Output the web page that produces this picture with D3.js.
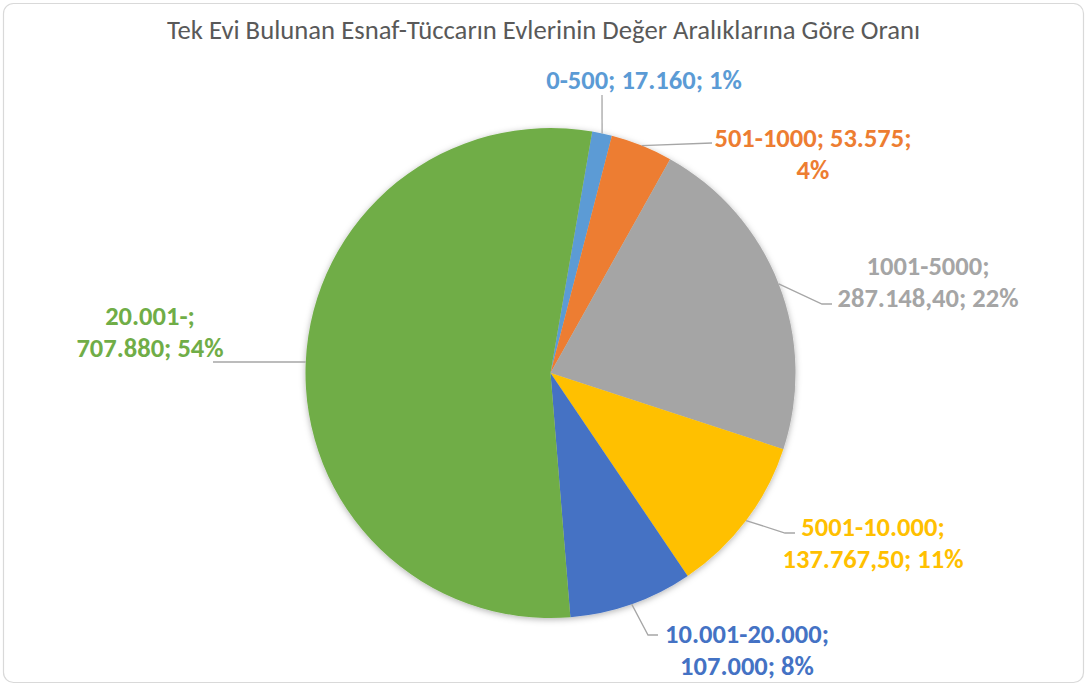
<!DOCTYPE html>
<html><head><meta charset="utf-8">
<script src="https://cdn.jsdelivr.net/npm/d3@7"></script>
<style>html,body{margin:0;padding:0;background:#fff;}svg{display:block;}</style>
</head><body>
<svg id="chart" width="1087" height="686"></svg>
<script>
const title = "Tek Evi Bulunan Esnaf-Tüccarın Evlerinin Değer Aralıklarına Göre Oranı";
const categories = ["0-500","501-1000","1001-5000","5001-10.000","10.001-20.000","20.001-"];
const values = [17160, 53575, 287148.40, 137767.50, 107000, 707880];
const valueLabels = ["17.160","53.575","287.148,40","137.767,50","107.000","707.880"];
const colors = ["#5B9BD5","#ED7D31","#A5A5A5","#FFC000","#4472C4","#70AD47"];
// label layout: text lines, centre x, first-line centre y, leader points after arc point
const labelLines = [
  ["{c}; {v}; {p}"],
  ["{c}; {v};","{p}"],
  ["{c};","{v}; {p}"],
  ["{c};","{v}; {p}"],
  ["{c};","{v}; {p}"],
  ["{c};","{v}; {p}"]
];
const labelX = [644, 813, 928, 873, 747, 150];
const labelY = [80, 138, 266, 527, 634, 316];
const leaderPts = [
  [[602,95]],
  [[712,143]],
  [[822,304],[832,304]],
  [[785,533],[795,533]],
  [[648,635],[658,635]],
  [[213,362]]
];

const svg = d3.select("#chart");
const W = 1087, H = 686;
const cx = 550.5, cy = 373, R = 245;
const startDeg = 9.8;
const font = "Carlito, Calibri, Lato, sans-serif";

svg.append("rect").attr("x",3.5).attr("y",3.5).attr("width",W-7).attr("height",H-7)
  .attr("rx",10).attr("fill","#fff").attr("stroke","#D9D9D9").attr("stroke-width",1.2);

const defs = svg.append("defs");
const f = defs.append("filter").attr("id","sh").attr("x","-20%").attr("y","-20%").attr("width","140%").attr("height","140%");
f.append("feDropShadow").attr("dx",0).attr("dy",1.5).attr("stdDeviation",3).attr("flood-color","#000").attr("flood-opacity",0.3);

const t = svg.append("text").attr("x",W/2).attr("y",30).attr("text-anchor","middle")
  .attr("dominant-baseline","central").attr("fill","#595959")
  .style("font-family",font).style("font-size","18.6px").text(title);
const tw = t.node().getComputedTextLength();
t.style("font-size",(18.6*753/tw).toFixed(2)+"px");

// fit label font size to reference width of one label
const probe = svg.append("text").style("font-family",font).style("font-weight","bold")
  .style("font-size","20px").text("287.148,40; 22%");
const fsz = 20*181/probe.node().getComputedTextLength();
probe.remove();

const total = d3.sum(values);
const pie = d3.pie().sort(null).value(d=>d)
  .startAngle(startDeg*Math.PI/180).endAngle(startDeg*Math.PI/180+2*Math.PI);
const arcs = pie(values);
const arc = d3.arc().innerRadius(0).outerRadius(R);

const g = svg.append("g").attr("transform",`translate(${cx},${cy})`);
g.append("g").attr("filter","url(#sh)").selectAll("path").data(arcs).join("path")
  .attr("d",arc).attr("fill",(d,i)=>colors[i]);

arcs.forEach((a,i)=>{
  const m = (a.startAngle+a.endAngle)/2;
  const p0 = [cx + R*Math.sin(m), cy - R*Math.cos(m)];
  const pts = [p0, ...leaderPts[i]];
  svg.append("path").attr("d", d3.line()(pts)).attr("fill","none")
    .attr("stroke","#A6A6A6").attr("stroke-width",1.3);
});

arcs.forEach((a,i)=>{
  const pct = Math.round(values[i]/total*100)+"%";
  labelLines[i].forEach((ln,j)=>{
    const s = ln.replace("{c}",categories[i]).replace("{v}",valueLabels[i]).replace("{p}",pct);
    svg.append("text").attr("x",labelX[i]).attr("y",labelY[i]+j*32)
      .attr("text-anchor","middle").attr("dominant-baseline","central")
      .attr("fill",colors[i]).style("font-family",font).style("font-weight","bold")
      .style("font-size",fsz.toFixed(2)+"px").text(s);
  });
});
</script>
</body></html>
